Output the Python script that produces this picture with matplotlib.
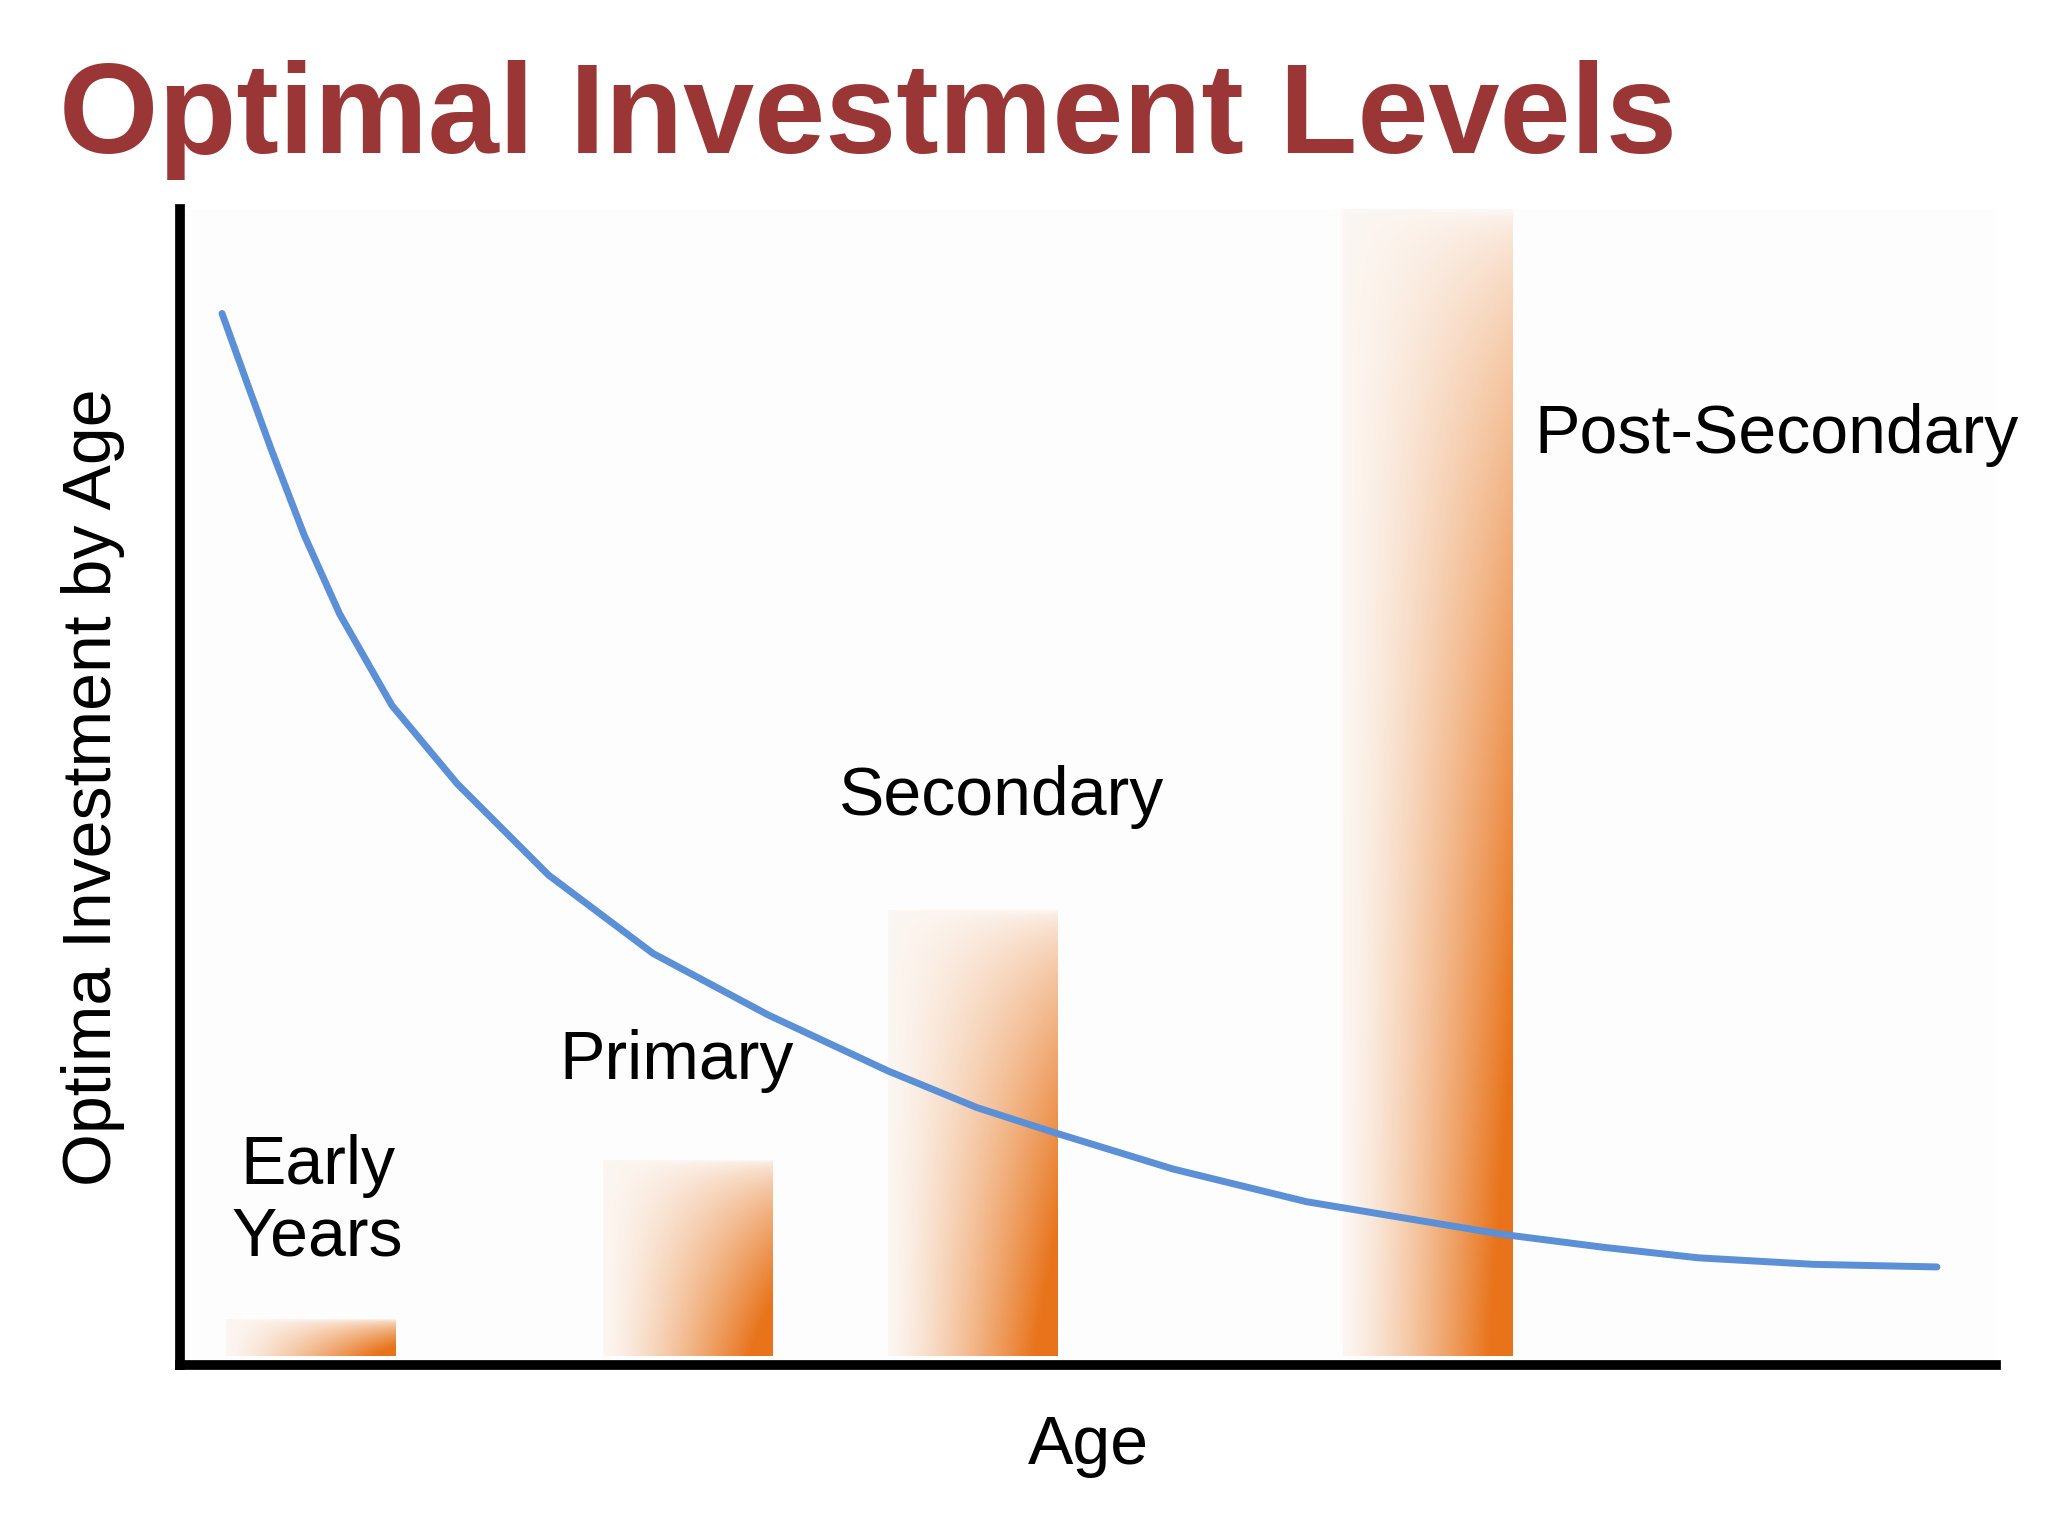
import numpy as np
import matplotlib
matplotlib.use("Agg")
import matplotlib.pyplot as plt
from matplotlib.patches import Rectangle

plt.rcParams["font.family"] = ["Liberation Sans", "DejaVu Sans"]

# Data (arbitrary units)
stages = ["Early\nYears", "Primary", "Secondary", "Post-Secondary"]
bar_left = [35, 324, 542, 890]
bar_width = 130
bar_height = [28, 150, 341, 878]
bar_bottom = 7

curve_x = [32, 50, 70, 95, 122, 162, 212, 282, 362, 450, 542, 610, 672, 760,
           862, 940, 1012, 1090, 1162, 1250, 1345]
curve_y = [805, 755, 700, 635, 575, 505, 445, 375, 315, 268, 225, 197, 177, 150,
           125, 112, 100, 90, 82, 77, 75]

label_x = [105, 290, 504, 1037]
label_y = [125, 233, 435, 712]
label_ha = ["center", "left", "left", "left"]

ORANGE = np.array([232, 115, 26]) / 255.0

fig = plt.figure(figsize=(20.48, 15.36), dpi=100)
fig.patch.set_facecolor("white")
ax = fig.add_axes([138 / 1568, 1 - 1045 / 1176, 1390 / 1568, 885 / 1176])
ax.set_xlim(0, 1390)
ax.set_ylim(0, 885)
ax.set_facecolor("#fdfdfd")

for l, h in zip(bar_left, bar_height):
    nx, ny = 200, 200
    gx = np.linspace(0, 1, nx)[None, :]
    gy = np.linspace(0, 1, ny)[:, None]  # 0 = bottom
    alpha = np.clip(gx ** 1.3 * (1 - gy) ** 0.6 * 1.15 + 0.05, 0, 1)
    img = np.zeros((ny, nx, 4))
    img[..., :3] = ORANGE
    img[..., 3] = alpha
    im = ax.imshow(img, extent=(l, l + bar_width, bar_bottom, bar_bottom + h),
                   origin="lower", aspect="auto", zorder=2, interpolation="bilinear")
    rect = Rectangle((l, bar_bottom), bar_width, h, transform=ax.transData)
    im.set_clip_path(rect)

ax.plot(curve_x, curve_y, color="#5b8fd6", lw=5, zorder=3,
        solid_capstyle="round", solid_joinstyle="round")

for s, x, y, ha in zip(stages, label_x, label_y, label_ha):
    ax.text(x, y, s, fontsize=49, ha=ha, va="center", linespacing=1.15, zorder=4)

for sp in ["top", "right"]:
    ax.spines[sp].set_visible(False)
ax.spines["left"].set_linewidth(7)
ax.spines["bottom"].set_linewidth(7)
ax.set_xticks([])
ax.set_yticks([])
ax.set_xlabel("Age", fontsize=49, labelpad=35)
ax.set_ylabel("Optima Investment by Age", fontsize=49, labelpad=40)

fig.text(45 / 1568, 1 - 92 / 1176, "Optimal Investment Levels", fontsize=92,
         fontweight="bold", color="#9b3636", va="center", ha="left")

fig.savefig("out.png", dpi=100)
